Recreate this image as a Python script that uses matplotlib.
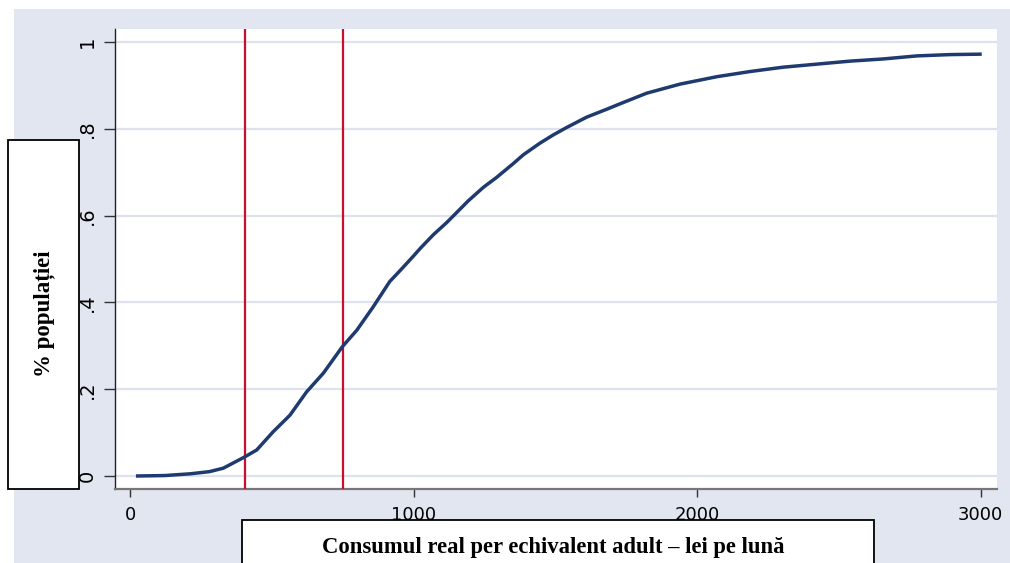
import numpy as np
import matplotlib
matplotlib.use("Agg")
import matplotlib.pyplot as plt
from matplotlib.patches import Rectangle

consum = [27, 123, 212, 280, 329, 402, 447, 505, 564, 623, 682, 749, 800, 858,
          916, 955, 1000, 1023, 1070, 1117, 1146, 1193, 1246, 1293, 1352, 1387,
          1446, 1493, 1540, 1611, 1681, 1726, 1822, 1940, 2069, 2187, 2304, 2422,
          2540, 2657, 2775, 2892, 2998]
populatie = [0.0, 0.001, 0.005, 0.01, 0.018, 0.043, 0.06, 0.102, 0.14, 0.194,
             0.237, 0.298, 0.336, 0.39, 0.448, 0.475, 0.507, 0.524, 0.556, 0.584,
             0.603, 0.634, 0.665, 0.688, 0.72, 0.74, 0.767, 0.786, 0.803, 0.827,
             0.845, 0.857, 0.882, 0.903, 0.92, 0.932, 0.942, 0.949, 0.956, 0.961,
             0.968, 0.971, 0.972]
praguri = [405, 750]   # vertical reference lines
xticks = [0, 1000, 2000, 3000]
yticks = [0, 0.2, 0.4, 0.6, 0.8, 1.0]
ylabels = ["0", ".2", ".4", ".6", ".8", "1"]

W, H = 1010, 563
fig = plt.figure(figsize=(W / 100, H / 100), dpi=100, facecolor="white")

# bluish background panel
bg = Rectangle((14 / W, 0), 1, (H - 9) / H, transform=fig.transFigure,
               facecolor="#e2e6f0", edgecolor="none", zorder=-10)
fig.add_artist(bg)

ax = fig.add_axes([115 / W, (H - 489) / H, (997 - 115) / W, (489 - 29) / H])
ax.set_facecolor("white")
ax.set_xlim(-53, 3058)
ax.set_ylim(-0.03, 1.03)

for y in yticks:
    ax.axhline(y, color="#dde2ee", lw=1.6, zorder=1)
for p in praguri:
    ax.axvline(p, color="#c8102e", lw=1.6, zorder=3)
ax.plot(consum, populatie, color="#1f3a6e", lw=2.5, zorder=4)

ax.set_xticks(xticks)
ax.set_xticklabels([str(t) for t in xticks], fontsize=13, family="DejaVu Sans")
ax.set_yticks(yticks)
ax.set_yticklabels(ylabels, fontsize=14, family="DejaVu Sans", rotation=90, va="center")
ax.tick_params(axis="x", length=6, width=1, pad=6, color="#333333")
ax.tick_params(axis="y", length=8, width=1, pad=5, color="#333333")

for s in ["top", "right"]:
    ax.spines[s].set_visible(False)
ax.spines["left"].set_color("#222222")
ax.spines["left"].set_linewidth(1.0)
ax.spines["bottom"].set_color("#777777")
ax.spines["bottom"].set_linewidth(1.6)

# white label boxes
fig.add_artist(Rectangle((8 / W, (H - 489) / H), (79 - 8) / W, (489 - 140) / H,
                         transform=fig.transFigure, facecolor="white",
                         edgecolor="black", lw=1.3, zorder=5))
fig.add_artist(Rectangle((242 / W, -0.05), (874 - 242) / W, 0.05 + (H - 520) / H,
                         transform=fig.transFigure, facecolor="white",
                         edgecolor="black", lw=1.3, zorder=5))

fig.text(44 / W, (H - 314) / H, "% populației", rotation=90, ha="center", va="center",
         fontsize=16.5, fontweight="bold", family="Liberation Serif", zorder=6)
fig.text(553 / W, (H - 553) / H, "Consumul real per echivalent adult – lei pe lună",
         ha="center", va="baseline", fontsize=16.3, fontweight="bold",
         family="Liberation Serif", zorder=6)

fig.savefig("out.png", dpi=100, facecolor="white")
